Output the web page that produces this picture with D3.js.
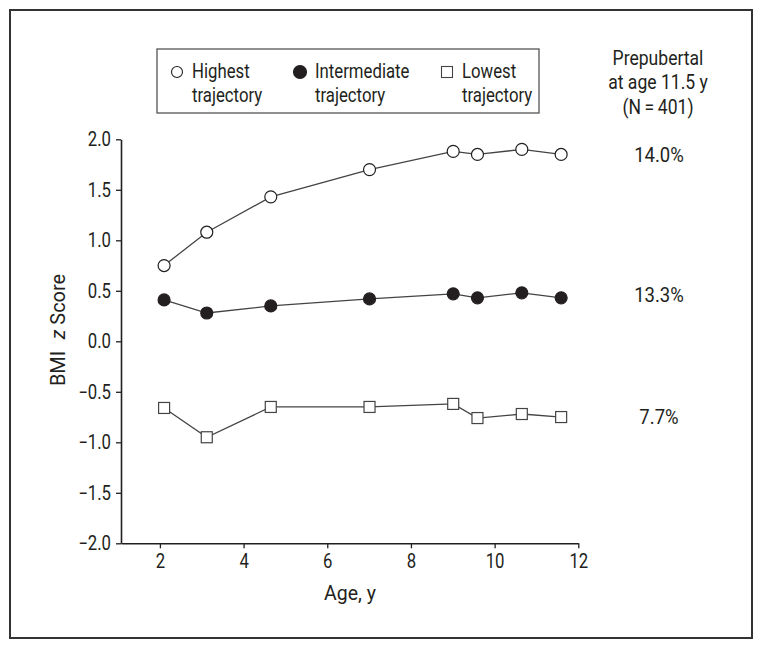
<!DOCTYPE html>
<html>
<head>
<meta charset="utf-8">
<script src="https://cdn.jsdelivr.net/npm/d3@7"></script>
<style>
  html, body { margin: 0; padding: 0; background: #fff; }
  svg text { font-family: "Liberation Sans Narrow", "Roboto", "Liberation Sans", sans-serif; fill: #231f20; }
</style>
</head>
<body>
<svg id="chart" width="763" height="649"></svg>
<script>
// ---- data ----
const ages = [2.1, 3.12, 4.65, 7.01, 9.01, 9.59, 10.65, 11.59];
const highest = [0.75, 1.08, 1.43, 1.70, 1.88, 1.85, 1.90, 1.85];
const intermediate = [0.41, 0.28, 0.35, 0.42, 0.47, 0.43, 0.48, 0.43];
const lowest = [-0.66, -0.95, -0.65, -0.65, -0.62, -0.76, -0.72, -0.75];
const seriesNames = ["Highest trajectory", "Intermediate trajectory", "Lowest trajectory"];
const prepubertal = ["14.0%", "13.3%", "7.7%"];
const xTicks = [2, 4, 6, 8, 10, 12];
const yTicks = [-2.0, -1.5, -1.0, -0.5, 0.0, 0.5, 1.0, 1.5, 2.0];

const svg = d3.select("#chart");
const ink = "#231f20";
const FS = 19.5;      // font size
const SX = 0.86;      // horizontal condensing (reference uses a condensed face)
const condense = (sel, ax, s = SX) => sel.attr("transform", `translate(${ax},0) scale(${s},1) translate(${-ax},0)`);

// outer frame
svg.append("rect").attr("x", 10).attr("y", 10).attr("width", 742).attr("height", 628)
  .attr("fill", "none").attr("stroke", "#333").attr("stroke-width", 2);

const x = d3.scaleLinear().domain([1.07, 12]).range([121, 578.3]);
const y = d3.scaleLinear().domain([-2, 2]).range([543.3, 139.3]);

// axes
const xAxis = svg.append("g").attr("transform", `translate(0,${y(-2)})`)
  .call(d3.axisBottom(x).tickValues(xTicks).tickFormat(d3.format("d")).tickSize(5).tickSizeOuter(0).tickPadding(6));
const yAxis = svg.append("g").attr("transform", `translate(${x(1.07)},0)`)
  .call(d3.axisLeft(y).tickValues(yTicks).tickFormat(d => d3.format(".1f")(d).replace("-", "\u2212")).tickSize(5).tickSizeOuter(0).tickPadding(5));
[xAxis, yAxis].forEach(g => {
  g.select(".domain").attr("stroke", ink).attr("stroke-width", 1.6);
  g.selectAll(".tick line").attr("stroke", ink).attr("stroke-width", 1.3);
  g.selectAll(".tick text").attr("font-size", FS).attr("fill", ink)
    .style("font-family", '"Liberation Sans Narrow", "Roboto", sans-serif');
});
xAxis.selectAll(".tick text").attr("dy", "0.71em").call(condense, 0);
yAxis.selectAll(".tick text").call(condense, -10);

// axis titles
svg.append("text").attr("x", 350).attr("y", 600).attr("text-anchor", "middle")
  .attr("font-size", 20.5).text("Age, y").call(condense, 350, 0.95);
const yl = svg.append("text").attr("transform", `translate(65,330) rotate(-90) scale(0.95,1)`)
  .attr("text-anchor", "middle").attr("font-size", 21);
yl.append("tspan").text("BMI ");
yl.append("tspan").attr("dx", 7).attr("font-style", "italic").text("z");
yl.append("tspan").text(" Score");

// series
const series = [
  { vals: highest, type: "circle", fill: "#fff" },
  { vals: intermediate, type: "circle", fill: ink },
  { vals: lowest, type: "square", fill: "#fff" }
];
const line = d3.line().x(d => x(d[0])).y(d => y(d[1]));
series.forEach(s => {
  const pts = ages.map((a, i) => [a, s.vals[i]]);
  svg.append("path").attr("d", line(pts)).attr("fill", "none")
    .attr("stroke", "#444").attr("stroke-width", 1.3);
  if (s.type === "circle") {
    svg.append("g").selectAll("circle").data(pts).join("circle")
      .attr("cx", d => x(d[0])).attr("cy", d => y(d[1])).attr("r", 6)
      .attr("fill", s.fill).attr("stroke", ink).attr("stroke-width", 1.2);
  } else {
    svg.append("g").selectAll("rect").data(pts).join("rect")
      .attr("x", d => x(d[0]) - 5.5).attr("y", d => y(d[1]) - 5.5)
      .attr("width", 11).attr("height", 11)
      .attr("fill", s.fill).attr("stroke", "#444").attr("stroke-width", 1.2);
  }
});

// legend
svg.append("rect").attr("x", 157).attr("y", 49).attr("width", 382).attr("height", 64)
  .attr("fill", "#fff").attr("stroke", "#555").attr("stroke-width", 1.3);
const legX = [177, 300, 447];
seriesNames.forEach((name, i) => {
  const cx = legX[i], cy = 72;
  if (i < 2) {
    svg.append("circle").attr("cx", cx).attr("cy", cy).attr("r", i === 0 ? 5.5 : 6.5)
      .attr("fill", series[i].fill).attr("stroke", ink).attr("stroke-width", 1.1);
  } else {
    svg.append("rect").attr("x", cx - 5.5).attr("y", cy - 5.5).attr("width", 11).attr("height", 11)
      .attr("fill", "#fff").attr("stroke", "#444").attr("stroke-width", 1.1);
  }
  const words = name.split(" ");
  const tx = cx + 15;
  const t = svg.append("text").attr("font-size", FS).call(condense, tx);
  t.append("tspan").attr("x", tx).attr("y", 78).text(words[0]);
  t.append("tspan").attr("x", tx).attr("y", 102).text(words[1]);
});

// right annotations
const rh = svg.append("text").attr("text-anchor", "middle").attr("font-size", FS).call(condense, 658, 0.9);
["Prepubertal", "at age 11.5 y", "(N\u2009=\u2009401)"].forEach((s, i) => {
  rh.append("tspan").attr("x", 658).attr("y", 65 + i * 24.5).text(s);
});
const pctY = [162.5, 302.5, 424];
prepubertal.forEach((p, i) => {
  svg.append("text").attr("x", 659).attr("y", pctY[i]).attr("text-anchor", "middle")
    .attr("font-size", FS).text(p).call(condense, 659, 0.95);
});
</script>
</body>
</html>
